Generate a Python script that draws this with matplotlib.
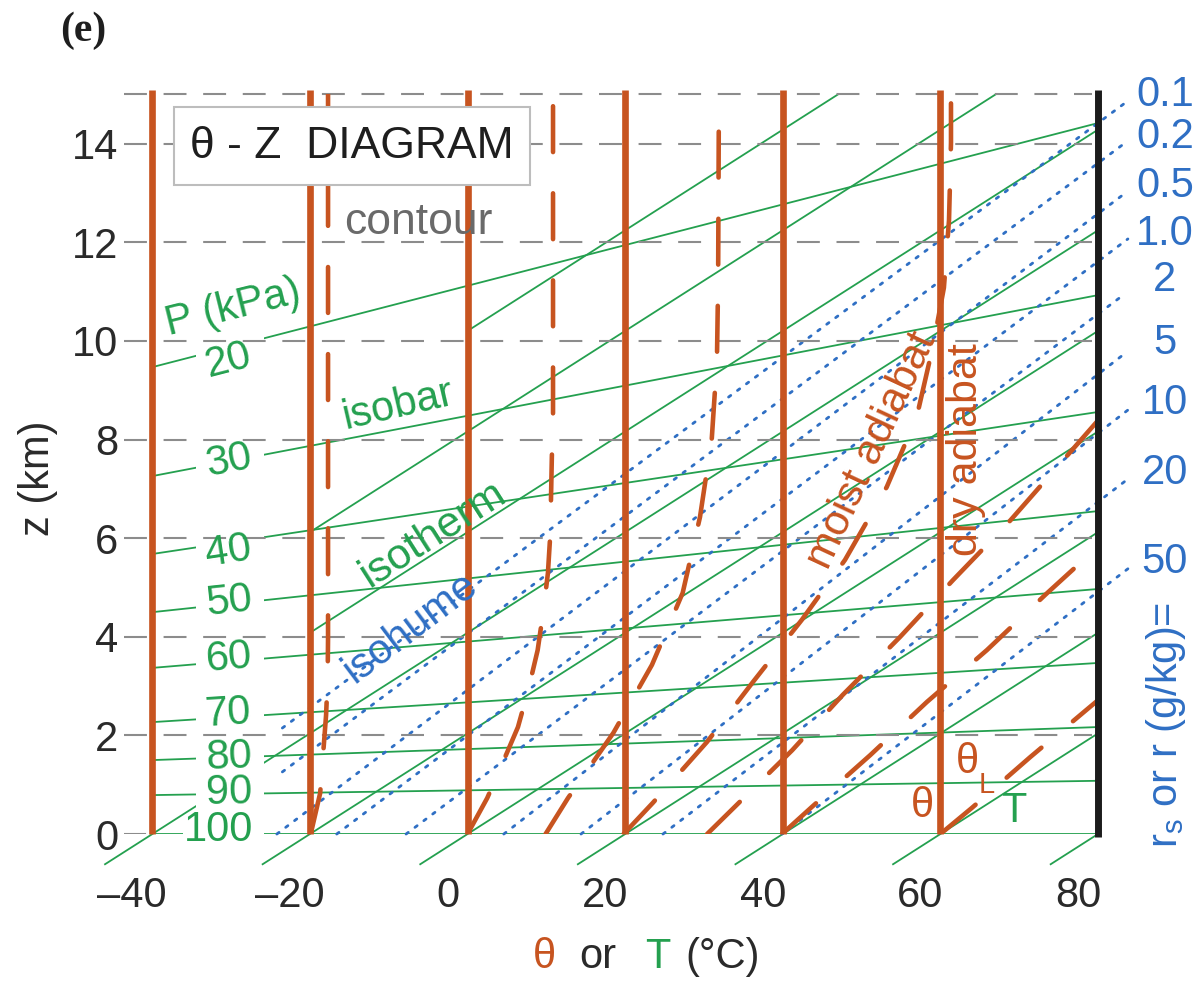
import math
import matplotlib
matplotlib.use("Agg")
import matplotlib.pyplot as plt
import matplotlib.transforms as mtransforms
from matplotlib.patches import Rectangle

plt.rcParams['font.family'] = ['Liberation Sans', 'DejaVu Sans']

ORANGE = '#C75420'
GREEN = '#24A04F'
BLUE = '#2F6FC4'
GREY = '#8C8C8C'
DARK = '#2A2A2A'

# dry adiabats (theta, degC)
theta_lines = [-40, -20, 0, 20, 40, 60]
theta_edge = 80

# isobars: z (km) where each isobar meets theta=-40 and theta=80
isobar_kpa = [100, 90, 80, 70, 60, 50, 40, 30, 20]
isobar_z_left = [0.0, 0.79, 1.50, 2.27, 3.37, 4.50, 5.68, 7.26, 9.47]
isobar_z_right = [0.0, 1.08, 2.17, 3.47, 4.97, 6.55, 8.56, 10.93, 14.42]
# where the kPa labels sit
isobar_label_theta = [-31.6, -30.3, -30.3, -30.3, -30.3, -30.3, -30.3, -30.3, -30.3]
isobar_label_z = [0.08, 0.83, 1.56, 2.45, 3.57, 4.71, 5.72, 7.57, 9.61]

# isotherms: T (degC) at z=0 and the theta where each drawn line begins
isotherm_T = [80, 60, 40, 20, 0, -20, -40, -60, -80, -100]
isotherm_theta_start = [74, 54, 34, 14, -6, -26, -46, -20, -20, 0]
dry_lapse = 9.8  # degC per km, slope of the isotherms

# isohumes (saturation mixing ratio, g/kg): start point and outer end point
isohume_labels = ['0.1', '0.2', '0.5', '1.0', '2', '5', '10', '20', '50']
isohume_theta0 = [-23.5, -23.5, -24.2, -16.6, -7.8, 4.6, 14.4, 24.8, 39.9]
isohume_z0 = [2.15, 1.26, 0, 0, 0, 0, 0, 0, 0]
isohume_theta1 = [83.8, 83.8, 83.8, 83.8, 83.2, 83.2, 83.8, 83.8, 83.8]
isohume_z1 = [14.87, 14.06, 13.04, 12.07, 10.93, 9.72, 8.60, 7.20, 5.38]
isohume_label_z = [14.99, 14.14, 13.14, 12.17, 11.24, 9.96, 8.74, 7.32, 5.52]

# moist adiabats (theta_L lines), traced points
moist_theta = [
    [-19.9, -18.7, -17.95, -17.75, -17.7, -17.7],
    [0.0, 2.5, 4.5, 6.4, 7.7, 8.9, 9.6, 10.2, 10.5, 10.7, 10.85, 10.85],
    [9.9, 12.75, 18.5, 23.4, 27.3, 29.5, 31.0, 31.65, 31.8, 31.9],
    [19.8, 23.5, 30.4, 36.2, 42.4, 47.9, 53.2, 57.0, 59.1, 60.45, 61.1, 61.35, 61.35],
    [30.4, 33.9, 41.2, 47.6, 54.9, 61.6, 68.6, 75.3, 80.4],
    [39.9, 43.7, 51.1, 58.3, 65.9, 73.3, 80.5],
    [60.0, 64.0, 71.4, 79.0, 80.5],
]
moist_z = [
    [0, 0.83, 2.41, 3.16, 3.98, 15.0],
    [0, 0.73, 1.46, 2.17, 2.92, 3.73, 4.50, 5.29, 6.07, 7.65, 8.46, 15.0],
    [0, 0.73, 2.05, 3.43, 4.89, 6.43, 8.03, 9.61, 11.2, 15.0],
    [0, 0.63, 1.87, 3.08, 4.34, 5.56, 7.04, 8.46, 9.92, 11.08, 12.45, 14.02, 15.0],
    [0, 0.55, 1.70, 2.82, 4.00, 5.15, 6.31, 7.53, 8.46],
    [0, 0.55, 1.60, 2.68, 3.73, 4.85, 5.90],
    [0, 0.53, 1.56, 2.58, 2.78],
]

z_grid = [2, 4, 6, 8, 10, 12, 14, 15]
z_ticks = [0, 2, 4, 6, 8, 10, 12, 14]
x_ticks = [-40, -20, 0, 20, 40, 60, 80]

fig = plt.figure(figsize=(12.01, 9.81), dpi=100)
ax = fig.add_axes([0.1032, 0.1498, 0.8110, 0.7539])
ax.set_xlim(-43.6, 80)
ax.set_ylim(0, 15)
for s in ax.spines.values():
    s.set_visible(False)

# grid
ax.hlines(z_grid, -43.6, 79.2, colors=GREY, lw=1.5, linestyles=(0, (11, 8)),
          zorder=2.6, clip_on=False)
ax.plot([-43.6, -40.9], [0, 0], color=GREY, lw=1.5, zorder=2.6)

# isobars
for zl, zr in zip(isobar_z_left, isobar_z_right):
    ax.plot([-40, 80], [zl, zr], color=GREEN, lw=1.3, zorder=2)

# isotherms
for T, th0 in zip(isotherm_T, isotherm_theta_start):
    z0 = (th0 - T) / dry_lapse
    th1 = min(80, T + dry_lapse * 15)
    z1 = (th1 - T) / dry_lapse
    ax.plot([th0, th1], [z0, z1], color=GREEN, lw=1.3, zorder=2, clip_on=False)

# isohumes
for t0, z0, t1, z1 in zip(isohume_theta0, isohume_z0, isohume_theta1, isohume_z1):
    ax.plot([t0, t1], [z0, z1], color=BLUE, lw=2.0, linestyle=(0, (1, 3)),
            dash_capstyle='round', zorder=2, clip_on=False)
for lab, zl in zip(isohume_labels, isohume_label_z):
    ax.text(88.5, zl, lab, color=BLUE, fontsize=30, ha='center', va='center',
            clip_on=False)

# white column behind the isobar labels
ax.add_patch(Rectangle((-34.4, -0.3), 8.6, 10.42, facecolor='white',
                       edgecolor='none', zorder=2.5, clip_on=False))
ax.add_patch(Rectangle((-36.1, -0.3), 1.8, 0.6, facecolor='white',
                       edgecolor='none', zorder=2.5, clip_on=False))

# moist adiabats
for th, z in zip(moist_theta, moist_z):
    ax.plot(th, z, color=ORANGE, lw=3.3, linestyle=(0, (10, 9)),
            dash_capstyle='round', zorder=3)

# dry adiabats
for th in theta_lines:
    ax.plot([th, th], [0, 15.1], color=ORANGE, lw=4.8, zorder=4,
            solid_capstyle='butt', clip_on=False)
ax.plot([theta_edge, theta_edge], [-0.05, 15.1], color='#1C1C1C', lw=5,
        zorder=4, solid_capstyle='butt', clip_on=False)

# isobar labels, tilted like their isobars
for p, zl, zr, lt, lz in zip(isobar_kpa, isobar_z_left, isobar_z_right,
                             isobar_label_theta, isobar_label_z):
    ang = math.degrees(math.atan2((zr - zl) * 49.3, 120 * 7.882))
    ax.text(lt, lz, str(p), color=GREEN, fontsize=30, ha='center',
            va='center', rotation=ang, rotation_mode='anchor', zorder=5)

# labels inside the diagram
ax.text(-29.8, 10.67, 'P (kPa)', color=GREEN, fontsize=30, rotation=14,
        ha='center', va='center', zorder=5)
ax.text(-8.8, 8.70, 'isobar', color=GREEN, fontsize=30, rotation=13,
        ha='center', va='center', zorder=5)
ax.text(-4.4, 6.07, 'isotherm', color=GREEN, fontsize=31, rotation=32.5,
        ha='center', va='center', zorder=5)
ax.text(-7.3, 4.18, 'isohume', color=BLUE, fontsize=30, rotation=37,
        ha='center', va='center', zorder=5)
ax.text(-6.3, 12.41, 'contour', color='#6A6A6A', fontsize=32,
        ha='center', va='center', zorder=5)
ax.text(51.3, 7.79, 'moist adiabat', color=ORANGE, fontsize=31, rotation=65,
        ha='center', va='center', zorder=5)
ax.text(63.2, 7.79, 'dry adiabat', color=ORANGE, fontsize=31, rotation=90,
        ha='center', va='center', zorder=5)
ax.text(57.7, 0.57, '\u03b8', color=ORANGE, fontsize=30, ha='center',
        va='center', zorder=5)
ax.text(63.4, 1.46, '\u03b8', color=ORANGE, fontsize=30, ha='center',
        va='center', zorder=5)
ax.text(65.9, 1.0, 'L', color=ORANGE, fontsize=21, ha='center',
        va='center', zorder=5)
ax.text(69.3, 0.47, 'T', color=GREEN, fontsize=30, ha='center',
        va='center', zorder=5)

# title box
ax.add_patch(Rectangle((-37.2, 13.16), 45.1, 1.59, facecolor='white',
                       edgecolor='#BDBDBD', lw=1.5, zorder=6))
ax.text(-14.65, 13.95, '\u03b8 - Z  DIAGRAM', color='#1E1E1E', fontsize=32,
        ha='center', va='center', zorder=7)

# ticks
ax.set_yticks(z_ticks)
ax.set_yticklabels([str(v) for v in z_ticks])
ax.set_xticks(x_ticks)
ax.set_xticklabels([str(v).replace('-', '\u2013') for v in x_ticks])
ax.tick_params(axis='y', length=0, pad=4, labelsize=30, labelcolor=DARK)
ax.tick_params(axis='x', length=0, pad=30, labelsize=30, labelcolor=DARK)
shift = mtransforms.ScaledTranslation(-0.20, 0, fig.dpi_scale_trans)
for lab in ax.get_xticklabels():
    lab.set_transform(lab.get_transform() + shift)

# axis titles
fig.text(0.0316, 0.5127, 'z (km)', color=DARK, fontsize=30, rotation=90,
         ha='center', va='center')
fig.text(0.453, 0.0245, '\u03b8', color=ORANGE, fontsize=30, ha='center', va='center')
fig.text(0.498, 0.0245, 'or', color=DARK, fontsize=30, ha='center', va='center')
fig.text(0.548, 0.0245, 'T', color=GREEN, fontsize=30, ha='center', va='center')
fig.text(0.602, 0.0245, '(\u00b0C)', color=DARK, fontsize=30, ha='center', va='center')
fig.text(0.971, 0.261, 'r$_\\mathregular{s}$ or r (g/kg)=', color=BLUE, fontsize=30,
         rotation=90, ha='center', va='center')
fig.text(0.069, 0.969, '(e)', color='#1E1E1E', fontsize=30, fontweight='bold',
         family='Liberation Serif', ha='center', va='center')

fig.savefig('out.png', dpi=100)
